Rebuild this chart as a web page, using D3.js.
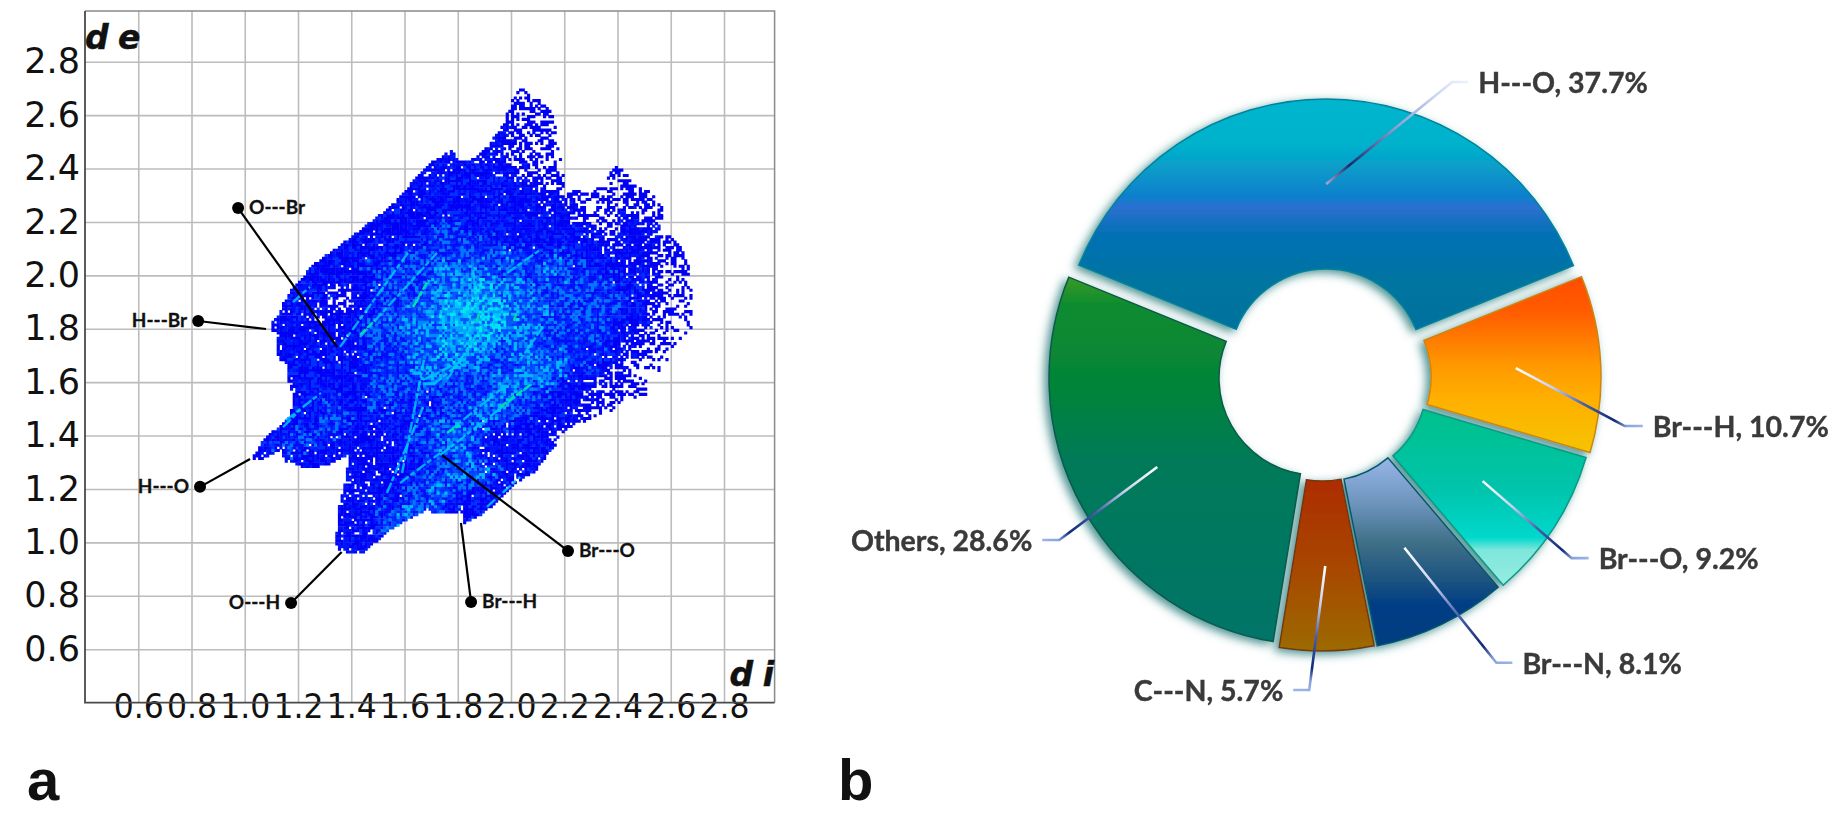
<!DOCTYPE html>
<html>
<head>
<meta charset="utf-8">
<title>Fingerprint plot and contact shares</title>
<script src="https://cdn.jsdelivr.net/npm/d3@7/dist/d3.min.js"></script>
<style>
	html, body { margin: 0; padding: 0; background: #fff; }
	svg { display: block; }
	.tick text { font-family: "DejaVu Sans", sans-serif; font-size: 35px; fill: #111; }
	.xAxis .tick text { font-size: 34px; }
	.note { font-family: Lato, sans-serif; font-weight: 700; font-size: 19px; fill: #111; stroke: #111; stroke-width: 0.3px; }
	.pieLabel { font-family: Lato, sans-serif; font-weight: 700; font-size: 28.5px; fill: #3a3a3a; stroke: #3a3a3a; stroke-width: 0.4px; }
	.axisName { font-family: "DejaVu Sans", sans-serif; font-weight: 700; font-style: italic; font-size: 33px; fill: #111; stroke: #111; stroke-width: 0.5px; }
	.panel { font-family: "Liberation Sans", sans-serif; font-weight: 700; font-size: 58px; fill: #111; }
</style>
</head>
<body>
<script>
// ---- panel a: fingerprint plot
var axisTicks = [0.6, 0.8, 1.0, 1.2, 1.4, 1.6, 1.8, 2.0, 2.2, 2.4, 2.6, 2.8];

// density read per 0.05 x 0.05 cell, first row de = 2.75, first column di = 1.00
// . empty, a-c sparse dots, d solid blue, e-g brighter towards cyan
var densityRows = [
	"....................aa............",
	"...................bbbbb..........",
	"..................cbbbbb..........",
	".................ccbbbba..........",
	"................ccccbbba..........",
	"...............ccccbbbba..........",
	"............ccccdcccbbba..ab......",
	"..........cbcccdddddcbbbb.abbba...",
	"........bcbcccddddddccbbbaabbbba..",
	".......ccbccddddddddddccbaabbbbb..",
	".....cccccddddddddddddcccaabcbbb..",
	"...cccccccddddeedddddddddcabcccbbb",
	"..cccccddddddeeeeeedddddddcbcccbbb",
	"..ccccddddddeeeeeeefeeeeddddccbbbb",
	"..ccdddddeeeeeffffeeeeffeeddcccabb",
	"..cddddcddeeeefffgfffeeeeeeeddbaaa",
	"..cdddbbcdeeeffggggfffeeeeeeddbbaa",
	".ccdcbbccdeefffgggggfffeeeeeddbaaa",
	".ccddcccdeefffggggggffeeeeedddbaaa",
	"..ccdcccdeeefffggggfffeeeeedcaaa..",
	"..cdddccdeeefffgfffeffeeeeddcbaa..",
	"..dddddddeeeffffffeeffffeedcbaa...",
	"..ccdddddeeeeffeeeeffffedccbba....",
	"..ccdddddeeeeeeeeefffeeddcbbba....",
	"..cdddeddeeedddeeeffeeddcbbb......",
	"..ddddeedddddeeeeffeedddcb........",
	"ddddeeeddcddeefffeccddcb..........",
	"ddeeeddccccddeefedcccdd...........",
	"cccccccccccdddeefeccdddd..........",
	"....ccccccccdeefffeccdde..........",
	".......cccddeefeeedccdee..........",
	".......cccddeefedddcdde...........",
	".......ccdeefeedddccde............",
	".......cddefedddddcd..............",
	"......cccdeeddd...................",
	"......cccdd.......................",
	".......cc........................."
];

// outline of the whole cloud as [di, de]
var cloudOutline = [
	[1.084, 1.803], [1.170, 1.953], [1.264, 2.058], [1.384, 2.140], [1.482, 2.219], [1.572, 2.294],
	[1.658, 2.395], [1.685, 2.421], [1.771, 2.477], [1.797, 2.432], [1.858, 2.443], [1.910, 2.496],
	[1.948, 2.545], [1.996, 2.657], [2.023, 2.713], [2.121, 2.650], [2.158, 2.593], [2.177, 2.481],
	[2.196, 2.384], [2.192, 2.331], [2.260, 2.320], [2.297, 2.309], [2.372, 2.395], [2.399, 2.421],
	[2.459, 2.346], [2.534, 2.309], [2.568, 2.245], [2.549, 2.170], [2.624, 2.144], [2.661, 2.046],
	[2.673, 1.934], [2.680, 1.807], [2.673, 1.694], [2.598, 1.616], [2.549, 1.571], [2.474, 1.533],
	[2.421, 1.533], [2.361, 1.488], [2.271, 1.458], [2.196, 1.414], [2.083, 1.271], [2.023, 1.234],
	[1.959, 1.170], [1.884, 1.110], [1.816, 1.073], [1.820, 1.110], [1.707, 1.110], [1.685, 1.133],
	[1.595, 1.084], [1.535, 1.047], [1.433, 0.960], [1.369, 0.972], [1.332, 0.983], [1.332, 1.039],
	[1.358, 1.185], [1.377, 1.245], [1.384, 1.335], [1.309, 1.297], [1.234, 1.282], [1.144, 1.309],
	[1.133, 1.357], [1.069, 1.320], [1.020, 1.316], [1.069, 1.395], [1.159, 1.470], [1.181, 1.533],
	[1.159, 1.608], [1.151, 1.676], [1.121, 1.694], [1.114, 1.796]
];

// bright diagonal streaks as [di1, de1, di2, de2]
var cyanStreaks = [
	[1.358, 1.732, 1.621, 2.095], [1.433, 1.769, 1.722, 2.084], [1.181, 1.900, 1.245, 1.957],
	[1.734, 1.327, 2.083, 1.597], [1.760, 1.410, 1.959, 1.571], [1.534, 1.185, 1.670, 1.507],
	[1.583, 1.222, 1.734, 1.335], [1.707, 1.590, 1.809, 1.672], [1.910, 1.133, 2.034, 1.245],
	[1.632, 1.882, 1.696, 1.983], [1.144, 1.432, 1.208, 1.496], [1.760, 1.610, 1.880, 1.790],
	[1.670, 1.608, 1.820, 1.683], [2.120, 1.807, 2.034, 1.683], [1.985, 2.009, 2.109, 2.095],
	[1.858, 2.020, 1.873, 1.859], [1.673, 1.683, 1.591, 1.260], [1.155, 1.458, 1.287, 1.560]
];
var greenStreaks = [
	[1.433, 1.777, 1.489, 1.833], [1.959, 1.507, 2.071, 1.590], [1.760, 1.410, 1.809, 1.440],
	[1.632, 1.882, 1.689, 1.983], [1.870, 1.830, 1.880, 1.855], [2.010, 1.830, 2.020, 1.855]
];

var noteNames = ["O---Br", "H---Br", "H---O", "O---H", "Br---H", "Br---O"];
var noteDots = [[0.975, 2.252], [0.825, 1.829], [0.832, 1.208], [1.174, 0.773], [1.850, 0.777], [2.214, 0.968]];
var noteTips = [[1.347, 1.732], [1.080, 1.799], [1.020, 1.312], [1.364, 0.964], [1.812, 1.073], [1.741, 1.327]];
var noteSides = [1, -1, -1, -1, 1, 1];

// ---- panel b: contact shares
var contactNames = ["H---O", "Br---H", "Br---O", "Br---N", "C---N", "Others"];
var contactShares = [37.7, 10.7, 9.2, 8.1, 5.7, 28.6];

// ---- styles and layout
var sliceShift = [[0, -12], [8, -1], [4, 4], [-1, 6], [-4, 6], [-10, 0]];
var sliceStroke = ["#00849c", "#c8880c", "#089a86", "#06586e", "#74380a", "#0b5a4c"];
var sliceStops = [
	[[0, "#00b5cd"], [0.2, "#00b2cc"], [0.3, "#0a9cc9"], [0.42, "#0b80cd"], [0.47, "#2b6fd0"], [0.58, "#0670b6"], [0.8, "#00749f"], [1, "#00719e"]],
	[[0, "#ff4c00"], [0.2, "#ff5c00"], [0.5, "#ff9800"], [0.7, "#ffb000"], [1, "#f5c400"]],
	[[0, "#00c08a"], [0.45, "#00c4ac"], [0.73, "#00d8cc"], [0.8, "#7fe6dc"], [1, "#96ece2"]],
	[[0, "#98b6e8"], [0.25, "#6b93bb"], [0.45, "#3f7088"], [0.65, "#1c5380"], [0.78, "#003e85"], [1, "#003d80"]],
	[[0, "#ad2c00"], [0.5, "#a84600"], [1, "#9c6a00"]],
	[[0, "#3c9a24"], [0.08, "#0a8b30"], [0.3, "#058438"], [0.5, "#007a58"], [1, "#007468"]]
];
var leaderElbows = [[126, -102], [109, 58], [89, 77], [92, 115], [-16, 124], [-98, 73]];
var leaderTails = [16, 18, 17, 16, -16, -17];
var leaderStops = [[0, "#ffffff"], [0.3, "#c5d0ee"], [0.55, "#4a5fa8"], [0.8, "#0f2a78"], [0.9, "#8aa3dd"], [1, "#9db4e8"]];
var topLeaderStops = [[0, "#a9a9d0"], [0.17, "#162a6a"], [0.5, "#8a9bd0"], [0.8, "#cad6f4"], [1, "#eef2fc"]];

// share of bins drawn, then the colours they take turns in
var densityStyles = {
	a: [0.3, ["#0000f4"]],
	b: [0.52, ["#0000f4"]],
	c: [0.87, ["#0000f4", "#0000f8", "#0018fa"]],
	d: [0.985, ["#0000f4", "#0000fa", "#0010ff", "#0030ff", "#0000f4"]],
	e: [1, ["#0008f8", "#0028ff", "#0048ff", "#0078ff", "#0010fa"]],
	f: [1, ["#0028ff", "#0050ff", "#0088ff", "#00b8ff", "#0038ff"]],
	g: [1, ["#0058ff", "#0090ff", "#00c4ff", "#00e4f0", "#00a4ff"]]
};

var svg = d3.select("body").append("svg").attr("width", 1833).attr("height", 817);
var defs = svg.append("defs");

var x = d3.scaleLinear().domain([0.4, 2.99]).range([85, 774.6]);
var y = d3.scaleLinear().domain([0.4, 2.99]).range([702.6, 11]);

// grid and tick labels
svg.append("g")
	.attr("transform", "translate(85,0)")
	.call(d3.axisLeft(y).tickValues(axisTicks).tickFormat(d3.format(".1f")).tickSize(-689.6).tickPadding(5))
	.call(styleAxis);
svg.append("g")
	.attr("class", "xAxis")
	.attr("transform", "translate(0,702.6)")
	.call(d3.axisBottom(x).tickValues(axisTicks).tickFormat(d3.format(".1f")).tickSize(0))
	.call(styleAxis)
	.selectAll(".tick text")
	.attr("y", -9)
	.attr("textLength", 50)
	.attr("lengthAdjust", "spacingAndGlyphs");
svg.selectAll(".tick line").attr("stroke", "#bcbcbc").attr("stroke-width", 1.6);
svg.selectAll(".xAxis .tick line").attr("y2", -691.6);

function styleAxis(g) {
	g.select(".domain").remove();
}

// fixed texture for the dots only, the density levels themselves come from densityRows
function dither(i, j) {
	var h = (i * 374761393 + j * 668265263) | 0;
	h = Math.imul(h ^ (h >>> 13), 1274126177);
	return ((h ^ (h >>> 16)) >>> 0) / 4294967296;
}

// cloud: every 0.01 bin takes its level from the cell under it, edges of cells dissolved by the dither
var binSize = 0.01;
var cellSize = 0.05;
var binPaths = {};
// a little overlap so no seams show between neighbouring bins
var pxW = x(binSize) - x(0) + 0.5;
var pxH = y(0) - y(binSize) + 0.5;

function levelAt(a, b) {
	var row = densityRows[Math.floor(b / cellSize + 1e-6)];
	return row ? row.charAt(Math.floor(a / cellSize + 1e-6)) : "";
}

for (var i = 0; i < 172; i++) {
	for (var j = 0; j < 185; j++) {
		var di = 1 + i * binSize;
		var de = 2.75 - j * binSize;
		if (!d3.polygonContains(cloudOutline, [di, de])) {
			continue;
		}
		var a = i * binSize + (dither(i + 40, j + 11) - 0.5) * cellSize * 1.4;
		var b = j * binSize + (dither(i + 7, j + 83) - 0.5) * cellSize * 1.4;
		var style = densityStyles[levelAt(a, b)] || densityStyles[levelAt(i * binSize, j * binSize)];
		if (!style || dither(i, j) > style[0]) {
			continue;
		}
		var colour = style[1][Math.floor(dither(i + 23, j + 57) * style[1].length)];
		binPaths[colour] = (binPaths[colour] || "") + "M" + x(di).toFixed(1) + " " + y(de).toFixed(1) +
			"h" + pxW.toFixed(2) + "v" + pxH.toFixed(2) + "h-" + pxW.toFixed(2) + "z";
	}
}
defs.append("filter").attr("id", "soft").append("feGaussianBlur").attr("stdDeviation", 0.45);
var cloud = svg.append("g").attr("filter", "url(#soft)");
Object.keys(binPaths).forEach(function (c) {
	cloud.append("path").attr("d", binPaths[c]).attr("fill", c);
});
cloud.selectAll("line.cyan").data(cyanStreaks).enter().append("line")
	.attr("class", "cyan")
	.attr("x1", function (d) { return x(d[0]); })
	.attr("y1", function (d) { return y(d[1]); })
	.attr("x2", function (d) { return x(d[2]); })
	.attr("y2", function (d) { return y(d[3]); })
	.attr("stroke", "#00c8ff")
	.attr("stroke-opacity", 0.85)
	.attr("stroke-dasharray", "11 2 5 3")
	.attr("stroke-width", 2.4);
cloud.selectAll("line.green").data(greenStreaks).enter().append("line")
	.attr("class", "green")
	.attr("x1", function (d) { return x(d[0]); })
	.attr("y1", function (d) { return y(d[1]); })
	.attr("x2", function (d) { return x(d[2]); })
	.attr("y2", function (d) { return y(d[3]); })
	.attr("stroke", "#00e49a")
	.attr("stroke-opacity", 0.95)
	.attr("stroke-dasharray", "8 2")
	.attr("stroke-width", 2.2);

// frame
svg.append("path").attr("d", d3.line()([[x(2.99), y(0.4)], [x(2.99), y(2.99)], [x(0.4), y(2.99)]]))
	.attr("fill", "none").attr("stroke", "#8a8a8a").attr("stroke-width", 1.5);
svg.append("path").attr("d", d3.line()([[x(0.4), y(2.99)], [x(0.4), y(0.4)], [x(2.99), y(0.4)]]))
	.attr("fill", "none").attr("stroke", "#4a4a4a").attr("stroke-width", 1.8);

// labelled contacts on the plot
noteNames.forEach(function (name, k) {
	svg.append("line")
		.attr("x1", x(noteDots[k][0])).attr("y1", y(noteDots[k][1]))
		.attr("x2", x(noteTips[k][0])).attr("y2", y(noteTips[k][1]))
		.attr("stroke", "#000").attr("stroke-width", 2.2);
	svg.append("circle")
		.attr("cx", x(noteDots[k][0])).attr("cy", y(noteDots[k][1]))
		.attr("r", 6).attr("fill", "#000");
	svg.append("text").attr("class", "note")
		.attr("x", x(noteDots[k][0]) + noteSides[k] * 11)
		.attr("y", y(noteDots[k][1]) + 6)
		.attr("text-anchor", noteSides[k] > 0 ? "start" : "end")
		.text(name);
});

svg.append("text").attr("class", "axisName").attr("x", 85).attr("y", 49).attr("letter-spacing", -1).text("d e");
svg.append("text").attr("class", "axisName").attr("x", 773).attr("y", 686).attr("text-anchor", "end").attr("letter-spacing", -1).text("d i");
svg.append("text").attr("class", "panel").attr("x", 27).attr("y", 800).text("a");
svg.append("text").attr("class", "panel").attr("x", 838).attr("y", 800).text("b");

// doughnut
var pieCentre = [1326, 378];
var outerR = 267;
var innerR = 97;
var pie = d3.pie().sort(null)
	.startAngle(-67.8 * Math.PI / 180)
	.endAngle((360 - 67.8) * Math.PI / 180);
var arc = d3.arc().innerRadius(innerR).outerRadius(outerR);
var arcs = pie(contactShares);

var shadow = defs.append("filter").attr("id", "sliceShadow")
	.attr("x", "-10%").attr("y", "-10%").attr("width", "120%").attr("height", "120%");
shadow.append("feDropShadow")
	.attr("dx", -4).attr("dy", 3).attr("stdDeviation", 5)
	.attr("flood-color", "#2f8080").attr("flood-opacity", 0.85);

sliceStops.forEach(function (stops, k) {
	defs.append("linearGradient").attr("id", "slice" + k)
		.attr("x1", 0).attr("y1", 0).attr("x2", 0).attr("y2", 1)
		.selectAll("stop").data(stops).enter().append("stop")
		.attr("offset", function (d) { return d[0]; })
		.attr("stop-color", function (d) { return d[1]; });
});

var ring = svg.append("g").attr("filter", "url(#sliceShadow)");
ring.selectAll("path").data(arcs).enter().append("path")
	.attr("d", arc)
	.attr("transform", function (d, k) {
		return "translate(" + (pieCentre[0] + sliceShift[k][0]) + "," + (pieCentre[1] + sliceShift[k][1]) + ")";
	})
	.attr("fill", function (d, k) { return "url(#slice" + k + ")"; })
	.attr("stroke", function (d, k) { return sliceStroke[k]; })
	.attr("stroke-width", 1.5);

// leaders start at each slice centroid
arcs.forEach(function (d, k) {
	var c = arc.centroid(d);
	var sx = pieCentre[0] + sliceShift[k][0] + c[0];
	var sy = pieCentre[1] + sliceShift[k][1] + c[1];
	var ex = sx + leaderElbows[k][0];
	var ey = sy + leaderElbows[k][1];
	var tx = ex + leaderTails[k];
	var grad = defs.append("linearGradient").attr("id", "leader" + k)
		.attr("gradientUnits", "userSpaceOnUse")
		.attr("x1", sx).attr("y1", sy).attr("x2", tx).attr("y2", ey);
	grad.selectAll("stop").data(k === 0 ? topLeaderStops : leaderStops).enter().append("stop")
		.attr("offset", function (s) { return s[0]; })
		.attr("stop-color", function (s) { return s[1]; });
	svg.append("path")
		.attr("d", d3.line()([[sx, sy], [ex, ey], [tx, ey]]))
		.attr("fill", "none")
		.attr("stroke", "url(#leader" + k + ")")
		.attr("stroke-width", 2.6);
	svg.append("text").attr("class", "pieLabel")
		.attr("x", tx + (leaderTails[k] > 0 ? 10 : -10))
		.attr("y", ey + 11)
		.attr("text-anchor", leaderTails[k] > 0 ? "start" : "end")
		.text(contactNames[k] + ", " + d3.format(".1f")(d.data) + "%");
});
</script>
</body>
</html>
